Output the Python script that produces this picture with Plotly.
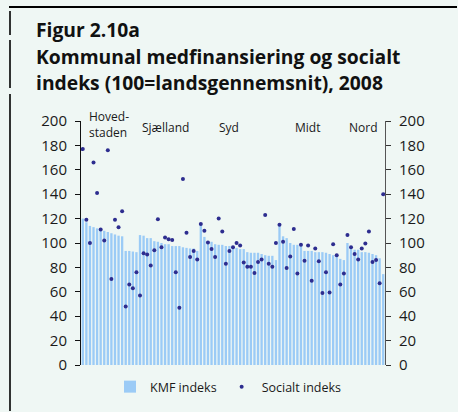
import plotly.graph_objects as go
import pandas as pd

# regions in the order shown
regions = ["Hovedstaden", "Sjælland", "Syd", "Midt", "Nord"]
region_labels = ["Hoved-<br>staden", "Sjælland", "Syd", "Midt", "Nord"]

# KMF indeks per kommune (bars), sorted within each region
kmf_hovedstaden = [120, 117, 114, 113, 112, 111, 110, 109, 108, 107, 106, 105.5, 93.5, 93.5, 93, 92.5]
kmf_sjaelland = [106.5, 106, 104, 104, 101.5, 101, 100, 99, 99, 97.5, 97.5, 97.5, 96.5, 96, 95.5, 95.5, 93.5]
kmf_syd = [115.5, 105, 101.5, 101, 99, 98.5, 98.5, 97.5, 97.5, 96, 96, 95, 95, 92.5, 92, 92, 92, 91, 90, 89.5, 89.5, 86]
kmf_midt = [115, 105.5, 104, 100, 98.5, 98.5, 98, 93.5, 93.5, 93.5, 92.5, 92.5, 92.5, 92, 91, 90, 89.5, 87, 86]
kmf_nord = [100, 96, 94.5, 94.5, 92.5, 92.5, 92, 91, 90, 87.5, 74.5]

# Socialt indeks per kommune (dots)
soc_hovedstaden = [177, 119, 100, 166, 141, 111, 102, 176, 70.5, 119, 113, 126, 48, 66, 63, 76]
soc_sjaelland = [57, 91.5, 90.5, 81.5, 94, 119.5, 96.5, 104.5, 103, 102.5, 76, 47, 152.5, 108.5, 88.5, 93.5, 86.5]
soc_syd = [115.5, 110, 100.5, 95, 88.5, 120, 109.5, 83, 93.5, 96.5, 100, 98, 84, 80.5, 80.5, 75.5, 84.5, 86.5, 123, 83, 80.5, 100]
soc_midt = [115, 101, 79.5, 89, 111.5, 75, 98.5, 85.5, 98, 69, 95.5, 85, 59, 76, 59.5, 99, 90, 66, 75]
soc_nord = [106.5, 96.5, 91, 86.5, 95.5, 99.5, 109.5, 84.5, 86, 67, 140]

y_ticks = [0, 20, 40, 60, 80, 100, 120, 140, 160, 180, 200]

kmf_all = [kmf_hovedstaden, kmf_sjaelland, kmf_syd, kmf_midt, kmf_nord]
soc_all = [soc_hovedstaden, soc_sjaelland, soc_syd, soc_midt, soc_nord]

rows = []
for reg, k_list, s_list in zip(regions, kmf_all, soc_all):
    for k, s in zip(k_list, s_list):
        rows.append({"region": reg, "kmf": k, "soc": s})
df = pd.DataFrame(rows)
df["pos"] = range(len(df))

BG = "#eff7f4"
BAR = "#9bcbf6"
DOT = "#2d2d8f"
FONT = "Open Sans"

# plot area in pixels (458x412 page)
L, R, T, B = 81, 73, 121, 47
W, H = 458, 412
PW, PH = W - L - R, H - T - B


def px_x(px):
    return (px - L) / PW


def px_y(py):
    return (H - B - py) / PH


fig = go.Figure()
fig.add_trace(go.Bar(
    x=df["pos"], y=df["kmf"], name="KMF indeks",
    marker=dict(color=BAR, line=dict(width=0)),
))
fig.add_trace(go.Scatter(
    x=df["pos"], y=df["soc"], name="Socialt indeks", mode="markers",
    marker=dict(color=DOT, size=4, symbol="circle"),
    yaxis="y2",
))

axis_common = dict(
    range=[0, 200], tickvals=y_ticks, ticks="outside", ticklen=5,
    showgrid=False, zeroline=False, showline=True, automargin=False,
    tickfont=dict(family=FONT, size=15, color="#1a1a1a"),
    ticklabelstandoff=5, fixedrange=True,
)

fig.update_layout(
    width=W, height=H,
    margin=dict(l=L, r=R, t=T, b=B, autoexpand=False),
    paper_bgcolor=BG, plot_bgcolor=BG,
    bargap=0.35,
    showlegend=True,
    xaxis=dict(range=[-0.5, len(df) - 0.5], visible=False, automargin=False),
    yaxis=dict(linecolor="#111", tickcolor="#111", **axis_common),
    yaxis2=dict(overlaying="y", side="right", linecolor="#555", tickcolor="#333", **axis_common),
    legend=dict(
        orientation="h", x=px_x(110), y=px_y(387), xanchor="left", yanchor="middle",
        font=dict(family=FONT, size=12.5, color="#1a1a1a"), bgcolor="rgba(0,0,0,0)",
        itemwidth=30, traceorder="normal",
    ),
    font=dict(family=FONT),
)

# title lines (x offset found by checking the render)
titles = [("Figur 2.10a", 29), ("Kommunal medfinansiering og socialt", 56),
          ("indeks (100=landsgennemsnit), 2008", 83)]
for txt, ypx in titles:
    fig.add_annotation(
        text="<b>" + txt + "</b>", xref="paper", yref="paper",
        x=px_x(34), y=px_y(ypx), xanchor="left", yanchor="middle",
        showarrow=False, font=dict(family=FONT, size=19.3, color="#111"),
    )

# region labels at top of plot
label_pos = [1.2, 16.0, 37.5, 58.7, 73.8]
label_y = [197, 195, 195, 195, 195]
for lbl, xp, yv in zip(region_labels, label_pos, label_y):
    fig.add_annotation(
        text=lbl, x=xp, y=yv, xref="x", yref="y", xanchor="left", yanchor="middle",
        align="left", showarrow=False, font=dict(family=FONT, size=12, color="#1a1a1a"),
    )

# frame lines: top rule and broken left rule
fig.add_shape(type="line", xref="paper", yref="paper", x0=px_x(9), x1=px_x(W - 1),
              y0=px_y(7), y1=px_y(7), line=dict(color="#000", width=2))
for y0, y1 in [(11, 35), (40, 88), (94, H - 1)]:
    fig.add_shape(type="line", xref="paper", yref="paper", x0=px_x(10), x1=px_x(10),
                  y0=px_y(y0), y1=px_y(y1), line=dict(color="#000", width=1.6))

# page body has a default 8px margin; drop it so the figure sits at the corner
fig.write_html("out.html", config={"displayModeBar": False},
               post_script="document.body.style.margin='0px';")
